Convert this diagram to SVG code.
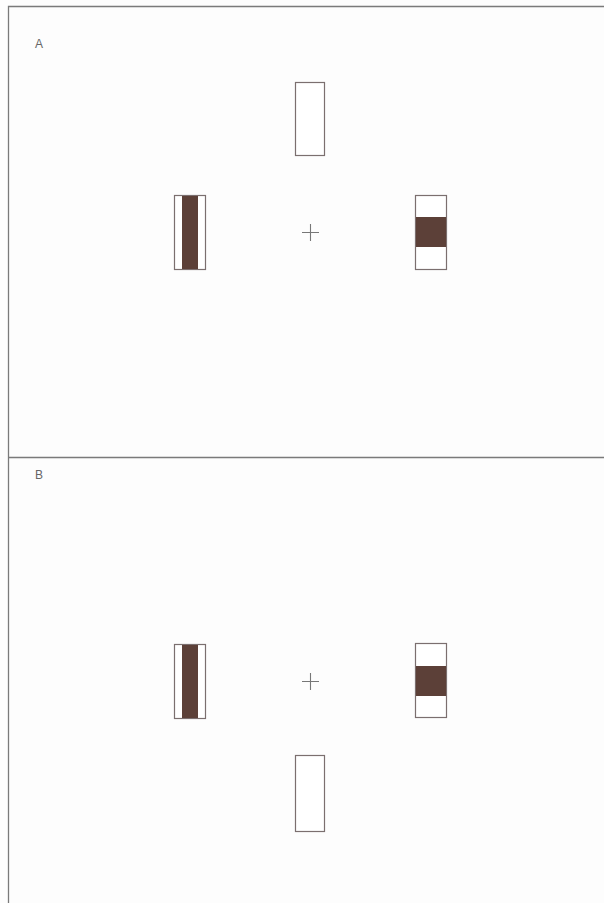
<svg xmlns="http://www.w3.org/2000/svg" width="604" height="903" viewBox="0 0 604 903">
<style>
.frame{stroke:#7a7a7a;stroke-width:1.3;fill:none}
.box{fill:#fff;stroke:#7b6f6f;stroke-width:1.2}
.dark{fill:#5c4038}
.cross{stroke:#777;stroke-width:1.1}
.lbl{font-family:"Liberation Sans",Arial,sans-serif;font-size:12px;fill:#666}
</style>
<rect width="604" height="903" fill="#fdfdfd"/>
<g id="frame">
<path class="frame" d="M8.5,903 V6.5 H604"/>
<path class="frame" d="M8.5,457.5 H604"/>
</g>
<g id="panelA">
<text class="lbl" x="35" y="48">A</text>
<g id="A-top"><rect class="box" x="295.5" y="82.5" width="29" height="73"/></g>
<g id="A-left"><rect class="box" x="174.5" y="195.5" width="31" height="74"/><rect class="dark" x="182" y="196" width="16" height="73"/></g>
<g id="A-cross"><path class="cross" d="M302,232.5 H319 M310.5,224 V241"/></g>
<g id="A-right"><rect class="box" x="415.5" y="195.5" width="31" height="74"/><rect class="dark" x="416" y="217" width="30" height="30"/></g>
</g>
<g id="panelB">
<text class="lbl" x="35" y="479">B</text>
<g id="B-left"><rect class="box" x="174.5" y="644.5" width="31" height="74"/><rect class="dark" x="182" y="645" width="16" height="73"/></g>
<g id="B-cross"><path class="cross" d="M302,681.5 H319 M310.5,673 V690"/></g>
<g id="B-right"><rect class="box" x="415.5" y="643.5" width="31" height="74"/><rect class="dark" x="416" y="666" width="30" height="30"/></g>
<g id="B-bottom"><rect class="box" x="295.5" y="755.5" width="29" height="76"/></g>
</g>
</svg>
